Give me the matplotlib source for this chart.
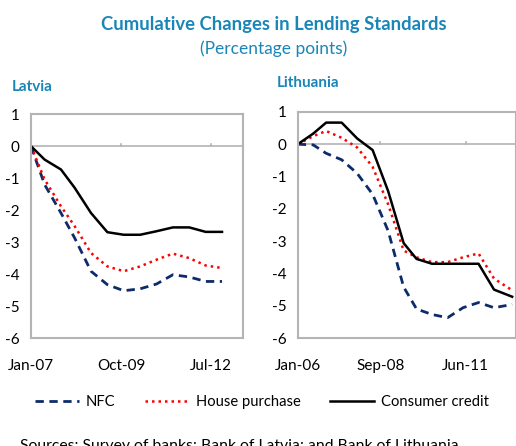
import matplotlib
matplotlib.use("Agg")
import matplotlib.pyplot as plt
from matplotlib.lines import Line2D

plt.rcParams['font.family'] = ['Lato', 'DejaVu Sans']

# Datos (meses desde el inicio de cada serie, puntos porcentuales)
lv_months = [0, 5, 11, 16, 22, 28, 34, 40, 46, 52, 58, 64, 70]
lv_nfc = [0, -1.2, -2.09, -2.87, -3.91, -4.33, -4.52, -4.46, -4.31, -4.02, -4.09, -4.23, -4.23]
lv_house = [0, -1.04, -1.88, -2.5, -3.34, -3.76, -3.91, -3.76, -3.55, -3.36, -3.5, -3.73, -3.81]
lv_consumer = [0, -0.42, -0.73, -1.3, -2.09, -2.69, -2.77, -2.77, -2.66, -2.54, -2.54, -2.68, -2.68]
lv_ticks = [0, 33, 66]
lv_labels = ['Jan-07', 'Oct-09', 'Jul-12']

lt_months = [0, 6, 11, 17, 23, 29, 35, 41, 46, 52, 58, 64, 70, 76, 83]
lt_nfc = [0, -0.02, -0.28, -0.48, -0.9, -1.55, -2.68, -4.42, -5.1, -5.27, -5.37, -5.06, -4.9, -5.06, -4.96]
lt_house = [0, 0.25, 0.41, 0.2, -0.1, -0.7, -1.86, -3.29, -3.5, -3.65, -3.65, -3.5, -3.38, -4.16, -4.52]
lt_consumer = [0, 0.33, 0.67, 0.67, 0.18, -0.18, -1.45, -3.06, -3.55, -3.7, -3.7, -3.7, -3.7, -4.5, -4.72]
lt_ticks = [0, 32, 65]
lt_labels = ['Jan-06', 'Sep-08', 'Jun-11']

teal = '#1a86b8'
navy = '#0d2b6b'
gray = '#b4b4b4'

fig = plt.figure(figsize=(5.16, 4.46), dpi=100)

fig.text(0.531, 0.944, 'Cumulative Changes in Lending Standards', ha='center', va='center',
         fontsize=13.3, fontweight='bold', color=teal)
fig.text(0.531, 0.890, '(Percentage points)', ha='center', va='center',
         fontsize=12.5, color=teal)


def panel(rect, months, nfc, house, consumer, ticks, labels, xmax, title, title_x, title_y):
    ax = fig.add_axes(rect)
    ax.plot(months, nfc, color=navy, lw=2, ls=(0, (3, 2)))
    ax.plot(months, house, color='red', lw=1.8, ls=(0, (1, 1.6)))
    ax.plot(months, consumer, color='black', lw=1.8)
    ax.axhline(0, color=gray, lw=1.2, zorder=0)
    # marcas del eje en la linea de cero
    for t in ticks[1:]:
        ax.plot([t, t], [0, 0.08], color=gray, lw=1.2, zorder=0)
    ax.set_xlim(0, xmax)
    ax.set_ylim(-6, 1)
    ax.set_yticks(range(-6, 2))
    ax.set_yticklabels([str(v) for v in range(-6, 2)])
    ax.set_xticks(ticks)
    ax.set_xticklabels(labels)
    ax.tick_params(length=0, labelsize=11, pad=8)
    ax.tick_params(axis='x', pad=15)
    for s in ax.spines.values():
        s.set_color(gray)
        s.set_linewidth(1.5)
    fig.text(title_x, title_y, title, fontsize=11, fontweight='bold', color=teal, va='center')
    return ax


panel([0.060, 0.242, 0.411, 0.502], lv_months, lv_nfc, lv_house, lv_consumer,
      lv_ticks, lv_labels, 77.7, 'Latvia', 0.022, 0.806)
panel([0.577, 0.242, 0.423, 0.507], lt_months, lt_nfc, lt_house, lt_consumer,
      lt_ticks, lt_labels, 84.5, 'Lithuania', 0.537, 0.815)

handles = [Line2D([], [], color=navy, lw=2, ls=(0, (3, 2))),
           Line2D([], [], color='red', lw=1.8, ls=(0, (1, 1.6))),
           Line2D([], [], color='black', lw=1.8)]
fig.legend(handles, ['NFC', 'House purchase', 'Consumer credit'], loc='center',
           bbox_to_anchor=(0.508, 0.098), ncol=3, frameon=False, fontsize=10.6,
           handlelength=3.0, columnspacing=2.0, handletextpad=0.45)

fig.text(0.039, -0.008, 'Sources: Survey of banks; Bank of Latvia; and Bank of Lithuania.',
         fontsize=11.3, va='baseline')

fig.savefig('out.png', dpi=100)
